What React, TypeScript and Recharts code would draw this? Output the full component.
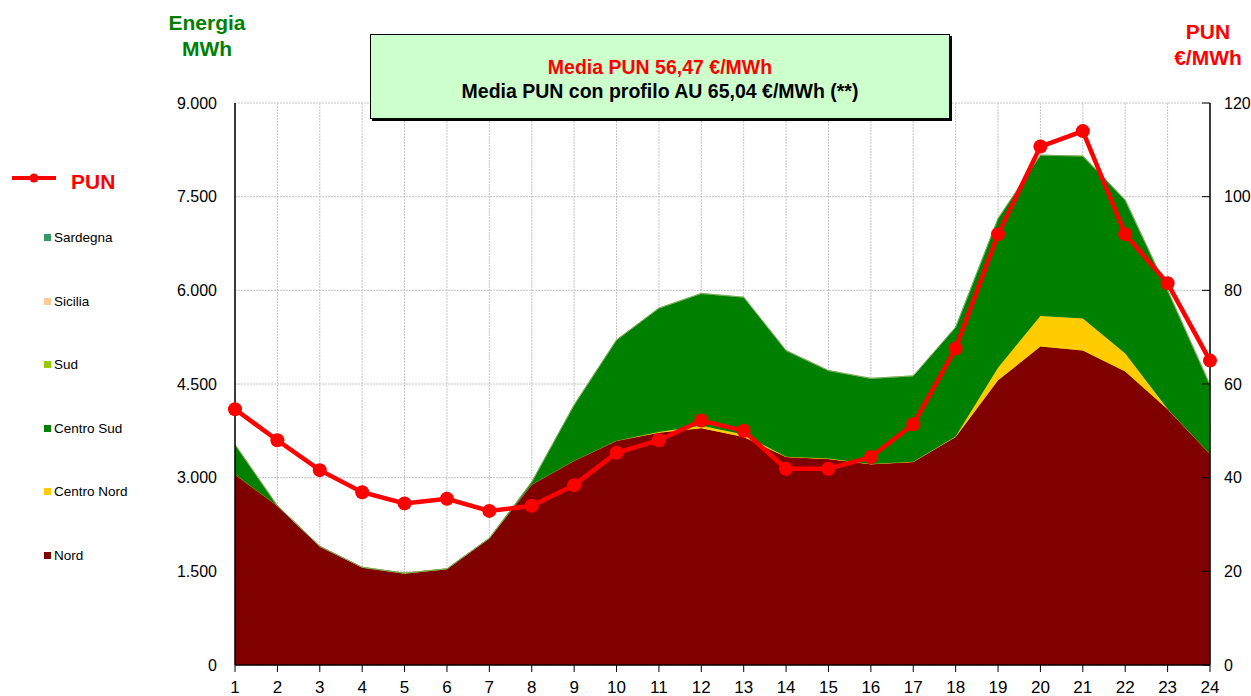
import React from 'react';
import {
  Area,
  CartesianGrid,
  ComposedChart,
  Line,
  XAxis,
  YAxis,
} from 'recharts';

// Energia oraria per zona (MWh, aree impilate) e PUN orario (€/MWh, linea)

const HOURS = [1, 2, 3, 4, 5, 6, 7, 8, 9, 10, 11, 12, 13, 14, 15, 16, 17, 18, 19, 20, 21, 22, 23, 24];
const NORD = [3050, 2550, 1900, 1565, 1470, 1540, 2030, 2890, 3270, 3590, 3720, 3790, 3650, 3330, 3300, 3215, 3250, 3650, 4560, 5100, 5035, 4700, 4095, 3380];
const CENTRO_NORD = [0, 0, 0, 0, 0, 0, 0, 0, 0, 0, 10, 40, 40, 5, 5, 5, 5, 10, 200, 490, 515, 290, 5, 0];
const CENTRO_SUD = [480, 0, 0, 0, 0, 0, 0, 40, 895, 1615, 1985, 2120, 2200, 1700, 1410, 1370, 1375, 1750, 2390, 2575, 2600, 2455, 1900, 1105];
const SUD = [0, 0, 0, 0, 0, 0, 0, 0, 0, 0, 0, 0, 0, 0, 0, 0, 0, 0, 0, 0, 0, 0, 0, 0];
const SICILIA = [0, 0, 0, 0, 0, 0, 0, 0, 0, 0, 0, 0, 0, 0, 0, 0, 0, 0, 0, 0, 0, 0, 0, 0];
const SARDEGNA = [0, 0, 0, 0, 0, 0, 0, 0, 0, 0, 0, 0, 0, 0, 0, 0, 0, 0, 0, 0, 0, 0, 0, 0];
const PUN = [54.6, 48.0, 41.6, 36.9, 34.5, 35.5, 32.9, 34.0, 38.4, 45.3, 48.0, 52.2, 50.0, 41.9, 41.9, 44.4, 51.4, 67.6, 92.0, 110.7, 114.0, 92.0, 81.5, 65.0];

const MWH_TICKS = [0, 1500, 3000, 4500, 6000, 7500, 9000];
const PUN_TICKS = [0, 20, 40, 60, 80, 100, 120];

const ZONES = [
  { key: 'nord', name: 'Nord', values: NORD, color: '#800000' },
  { key: 'centroNord', name: 'Centro Nord', values: CENTRO_NORD, color: '#ffcc00' },
  { key: 'centroSud', name: 'Centro Sud', values: CENTRO_SUD, color: '#008000' },
  { key: 'sud', name: 'Sud', values: SUD, color: '#99cc00' },
  { key: 'sicilia', name: 'Sicilia', values: SICILIA, color: '#ffcc99' },
  { key: 'sardegna', name: 'Sardegna', values: SARDEGNA, color: '#339966' },
];

const FONT = '"Liberation Sans", Arial, sans-serif';

const data = HOURS.map((hour, i) => {
  const row: Record<string, number> = { hour, pun: PUN[i] };
  for (const z of ZONES) row[z.key] = z.values[i];
  return row;
});

function thousands(v: number): string {
  return String(v).replace(/\B(?=(\d{3})+(?!\d))/g, '.');
}

const tickStyle = { fontSize: 16, fill: '#000', fontFamily: FONT };

export default function App() {
  const legendZones = [...ZONES].reverse();
  return (
    <div style={{ position: 'absolute', left: 0, top: 0, width: 1251, height: 696, fontFamily: FONT, background: '#fff' }}>
      <ComposedChart
        width={1251}
        height={696}
        data={data}
        margin={{ top: 103, right: 0, bottom: 0, left: 0 }}
      >
        <CartesianGrid yAxisId="mwh" stroke="#c4c4c4" strokeDasharray="2 1" />
        <XAxis
          dataKey="hour"
          height={31}
          interval={0}
          tick={{ ...tickStyle, fontSize: 17 }}
          tickSize={7}
          tickMargin={9}
          axisLine={{ stroke: '#000', strokeWidth: 1.5 }}
          tickLine={{ stroke: '#000' }}
        />
        <YAxis
          yAxisId="mwh"
          width={235}
          domain={[0, 9000]}
          ticks={MWH_TICKS}
          tickFormatter={thousands}
          tick={tickStyle}
          tickLine={false}
          tickMargin={12}
          axisLine={{ stroke: '#000', strokeWidth: 1.5 }}
        />
        <YAxis
          yAxisId="pun"
          orientation="right"
          width={41}
          domain={[0, 120]}
          ticks={PUN_TICKS}
          tick={{ ...tickStyle, textAnchor: 'start' }}
          tickSize={-8}
          tickMargin={22}
          tickLine={{ stroke: '#000' }}
          axisLine={{ stroke: '#000', strokeWidth: 1.5 }}
        />
        {ZONES.map((z) => (
          <Area
            key={z.key}
            yAxisId="mwh"
            type="linear"
            dataKey={z.key}
            name={z.name}
            stackId="zone"
            stroke={z.color}
            strokeWidth={0.5}
            fill={z.color}
            fillOpacity={1}
            isAnimationActive={false}
          />
        ))}
        <Line
          yAxisId="pun"
          type="linear"
          dataKey="pun"
          name="PUN"
          stroke="#ff0000"
          strokeWidth={4.5}
          dot={{ r: 7, fill: '#ff0000', stroke: '#ff0000', strokeWidth: 0 }}
          activeDot={false}
          isAnimationActive={false}
        />
      </ComposedChart>

      {/* titoli degli assi */}
      <div style={{ position: 'absolute', left: 157, top: 10, width: 100, textAlign: 'center', color: '#008000', fontWeight: 'bold', fontSize: 21, lineHeight: '26px' }}>
        Energia<br />MWh
      </div>
      <div style={{ position: 'absolute', left: 1158, top: 19, width: 100, textAlign: 'center', color: '#ff0000', fontWeight: 'bold', fontSize: 21, lineHeight: '26px' }}>
        PUN<br />€/MWh
      </div>

      {/* riquadro medie */}
      <div
        style={{
          position: 'absolute',
          left: 370,
          top: 34,
          width: 580,
          height: 85,
          background: '#ccffcc',
          border: '1px solid #000',
          boxShadow: '2px 2px 0 #000',
          boxSizing: 'border-box',
          textAlign: 'center',
          fontWeight: 'bold',
          fontSize: 19.5,
          lineHeight: '24px',
          paddingTop: 20,
        }}
      >
        <div style={{ color: '#ff0000' }}>Media PUN 56,47 €/MWh</div>
        <div style={{ color: '#000' }}>Media PUN con profilo AU 65,04 €/MWh (**)</div>
      </div>

      {/* legenda */}
      <div style={{ position: 'absolute', left: 12, top: 166 }}>
        <svg width={46} height={24} style={{ position: 'absolute', left: 0, top: 0 }}>
          <line x1={0} y1={12} x2={44} y2={12} stroke="#ff0000" strokeWidth={4} />
          <circle cx={22} cy={12} r={4.5} fill="#ff0000" />
        </svg>
        <span style={{ position: 'absolute', left: 59, top: 4, color: '#ff0000', fontWeight: 'bold', fontSize: 21, whiteSpace: 'nowrap' }}>PUN</span>
      </div>
      {legendZones.map((z, i) => (
        <div
          key={z.key}
          style={{ position: 'absolute', left: 44, top: 230 + i * 63.6, display: 'flex', alignItems: 'center', fontSize: 13.5, color: '#000', whiteSpace: 'nowrap' }}
        >
          <span style={{ display: 'inline-block', width: 7, height: 7, background: z.color, marginRight: 3 }} />
          {z.name}
        </div>
      ))}
    </div>
  );
}
